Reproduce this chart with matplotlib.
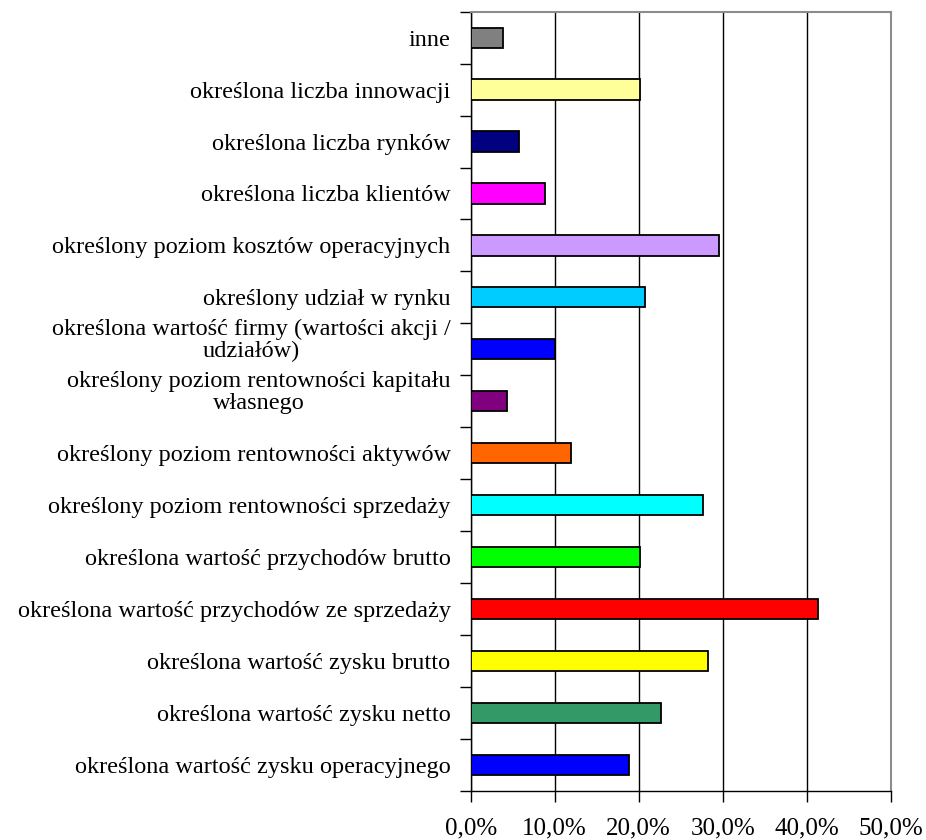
import matplotlib.pyplot as plt
from matplotlib.ticker import FuncFormatter, FixedLocator
from matplotlib.transforms import ScaledTranslation

# categories listed bottom to top
categories = [
    "określona wartość zysku operacyjnego",
    "określona wartość zysku netto",
    "określona wartość zysku brutto",
    "określona wartość przychodów ze sprzedaży",
    "określona wartość przychodów brutto",
    "określony poziom rentowności sprzedaży",
    "określony poziom rentowności aktywów",
    "określony poziom rentowności kapitału\nwłasnego",
    "określona wartość firmy (wartości akcji /\nudziałów)",
    "określony udział w rynku",
    "określony poziom kosztów operacyjnych",
    "określona liczba klientów",
    "określona liczba rynków",
    "określona liczba innowacji",
    "inne",
]
values = [18.85, 22.6, 28.3, 41.4, 20.2, 27.6, 11.9, 4.3, 10.0, 20.7, 29.5, 8.85, 5.7, 20.2, 3.8]
colors = [
    "#0000FF", "#339966", "#FFFF00", "#FF0000", "#00FF00", "#00FFFF",
    "#FF6600", "#800080", "#0000FF", "#00CCFF", "#CC99FF", "#FF00FF",
    "#000080", "#FFFF99", "#808080",
]
xticks = [0, 10, 20, 30, 40, 50]

plt.rcParams['font.family'] = ['Liberation Serif', 'DejaVu Serif']

fig = plt.figure(figsize=(9.26, 8.4), dpi=100)
ax = fig.add_axes([470.7 / 926, 1 - 790.7 / 840, 420 / 926, 779 / 840])

pos = list(range(len(categories)))
ax.barh(pos, values, height=0.39, color=colors, edgecolor='black', linewidth=1.3, zorder=3)

ax.set_xlim(0, 50)
ax.set_ylim(-0.5, len(categories) - 0.5)
ax.xaxis.set_major_locator(FixedLocator(xticks))
ax.xaxis.set_major_formatter(FuncFormatter(lambda v, p: f"{v:.1f}%".replace('.', ',')))
ax.grid(axis='x', color='black', linewidth=1.0, zorder=0)

ax.set_yticks(pos)
ax.set_yticklabels(categories, fontsize=17.5, linespacing=1.05, multialignment='center')
ax.set_yticks([p - 0.5 for p in pos] + [len(pos) - 0.5], minor=True)
ax.tick_params(axis='y', which='major', length=0, pad=14.5)
ax.tick_params(axis='y', which='minor', length=8, width=1, color='black', direction='out')
ax.tick_params(axis='x', length=8, width=1, direction='out', pad=11, labelsize=18)

# two-line labels sit a bit higher than their bars
for lab in ax.get_yticklabels():
    if '\n' in lab.get_text():
        lab.set_transform(lab.get_transform() + ScaledTranslation(0, 12 / 100, fig.dpi_scale_trans))

for side in ['left', 'bottom']:
    ax.spines[side].set_color('black')
    ax.spines[side].set_linewidth(1.0)
for side in ['top', 'right']:
    ax.spines[side].set_color('#8c8c8c')
    ax.spines[side].set_linewidth(1.5)

fig.savefig('out.png', dpi=100)
